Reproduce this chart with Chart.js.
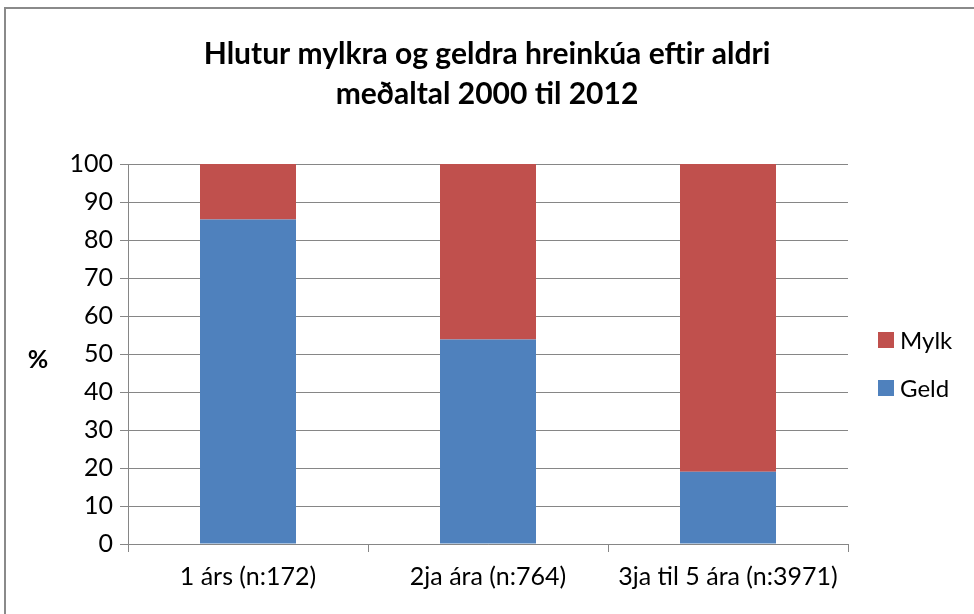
<!DOCTYPE html>
<html>
<head>
<meta charset="utf-8">
<script src="https://cdn.jsdelivr.net/npm/chart.js@4/dist/chart.umd.min.js"></script>
<style>
  html, body { margin: 0; padding: 0; background: #fff; }
  #wrap { position: relative; width: 974px; height: 614px; overflow: hidden; }
  #frame { position: absolute; left: 4px; top: 7px; width: 1100px; height: 700px;
           border-left: 2px solid #8a8a8a; border-top: 2px solid #8a8a8a; }
  canvas { position: absolute; left: 0; top: 0; }
</style>
</head>
<body>
<div id="wrap">
  <div id="frame"></div>
  <canvas id="myChart" width="974" height="614"></canvas>
</div>
<script>
var categories = ['1 árs (n:172)', '2ja ára (n:764)', '3ja til 5 ára (n:3971)'];
var geld = [85.4, 53.8, 19.0];
var mylk = [14.6, 46.2, 81.0];
var titleLines = ['Hlutur mylkra og geldra hreinkúa eftir aldri', 'meðaltal 2000 til 2012'];
var yTitle = '%';

var FONT = 'Lato, "Liberation Sans", sans-serif';

// "%" caption, horizontal like the original
var percentLabel = {
    id: 'percentLabel',
    afterDraw: function (chart) {
        var ctx = chart.ctx;
        var area = chart.chartArea;
        ctx.save();
        ctx.font = 'bold 25px ' + FONT;
        ctx.fillStyle = '#000';
        ctx.textAlign = 'center';
        ctx.textBaseline = 'middle';
        ctx.fillText(yTitle, 38, (area.top + area.bottom) / 2 + 6);
        ctx.restore();
    }
};

// legend to the right, Mylk above Geld
var sideLegend = {
    id: 'sideLegend',
    afterDraw: function (chart) {
        var ctx = chart.ctx;
        var area = chart.chartArea;
        var sets = chart.data.datasets.slice().reverse();
        ctx.save();
        ctx.font = '24px ' + FONT;
        ctx.textBaseline = 'middle';
        ctx.textAlign = 'left';
        for (var i = 0; i < sets.length; i++) {
            var cy = (area.top + area.bottom) / 2 - 14 + i * 48;
            ctx.fillStyle = sets[i].backgroundColor;
            ctx.fillRect(area.right + 30, cy - 8, 16, 16);
            ctx.fillStyle = '#000';
            ctx.fillText(sets[i].label, area.right + 52, cy + 1);
        }
        ctx.restore();
    }
};

var ctx = document.getElementById('myChart').getContext('2d');
new Chart(ctx, {
    type: 'bar',
    data: {
        labels: categories,
        datasets: [{
            label: 'Geld',
            data: geld,
            backgroundColor: '#4F81BD'
        }, {
            label: 'Mylk',
            data: mylk,
            backgroundColor: '#C0504D'
        }]
    },
    options: {
        responsive: false,
        animation: false,
        layout: { padding: 0 },
        datasets: { bar: { categoryPercentage: 1, barPercentage: 0.4 } },
        plugins: {
            title: {
                display: true,
                text: titleLines,
                color: '#000',
                font: { family: FONT, size: 30, weight: 'bold', lineHeight: 1.35 },
                padding: { top: 34, bottom: 49 }
            },
            legend: { display: false },
            tooltip: { enabled: false }
        },
        scales: {
            x: {
                stacked: true,
                grid: { drawOnChartArea: false, color: '#868686', tickLength: 8 },
                border: { color: '#868686' },
                ticks: { color: '#000', font: { family: FONT, size: 25 }, padding: 10 },
                afterFit: function (scale) { scale.height = 70; }
            },
            y: {
                stacked: true,
                min: 0,
                max: 100,
                grid: { color: '#868686', tickLength: 8 },
                border: { color: '#868686' },
                ticks: { stepSize: 10, color: '#000', font: { family: FONT, size: 25 }, padding: 7 },
                afterFit: function (scale) { scale.width = 128; }
            },
            // empty axis that keeps room for the legend
            legendSpace: {
                type: 'linear',
                position: 'right',
                grid: { display: false },
                border: { display: false },
                ticks: { display: false },
                afterFit: function (scale) { scale.width = 126; }
            }
        }
    },
    plugins: [percentLabel, sideLegend]
});
</script>
</body>
</html>
